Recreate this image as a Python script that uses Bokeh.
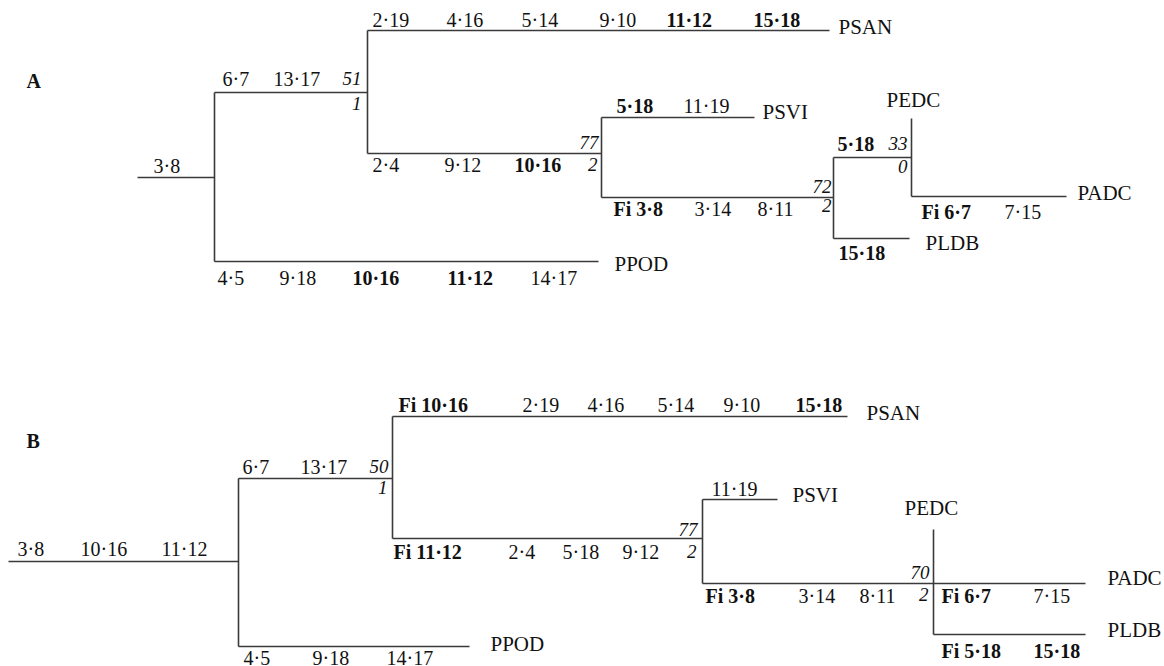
from bokeh.plotting import figure
from bokeh.models import ColumnDataSource, Range1d
from bokeh.core.properties import value
from bokeh.embed import file_html
from bokeh.resources import INLINE

FONT = "Liberation Serif"

# ---------------- Tree A ----------------
A_NODES = ["root", "n1", "n2", "n3", "n4", "n5", "PSAN", "PSVI", "PEDC", "PADC", "PLDB", "PPOD"]
A_PARENT = [None, "root", "n1", "n2", "n3", "n4", "n2", "n3", "n5", "n5", "n4", "n1"]
A_X = [137, 214, 367, 601, 833, 911, 829, 754, 911, 1066, 909, 598]
A_Y = [177, 177, 92, 153, 197, 157, 30, 117, 118, 196, 238, 261]

A_TAXA = ["PSAN", "PSVI", "PEDC", "PADC", "PLDB", "PPOD"]
A_TAXA_X = [838, 762, 886, 1077, 925, 614]
A_TAXA_Y = [34, 119, 107, 200, 250, 271]

# character-state changes
A_CHANGES = ["3·8",
             "6·7", "13·17",
             "2·19", "4·16", "5·14", "9·10", "11·12", "15·18",
             "2·4", "9·12", "10·16",
             "5·18", "11·19",
             "Fi 3·8", "3·14", "8·11",
             "5·18",
             "Fi 6·7", "7·15",
             "15·18",
             "4·5", "9·18", "10·16", "11·12", "14·17"]
A_BOLD = [0,
          0, 0,
          0, 0, 0, 0, 1, 1,
          0, 0, 1,
          1, 0,
          1, 0, 0,
          1,
          1, 0,
          1,
          0, 0, 1, 1, 0]
A_CH_X = [153,
          222, 273,
          372, 446, 521, 599, 666, 753,
          372, 444, 514,
          616, 683,
          613, 694, 757,
          837,
          921, 1004,
          838,
          217, 279, 352, 447, 530]
A_CH_Y = [173,
          86, 86,
          27, 27, 27, 27, 27, 27,
          172, 172, 172,
          113, 113,
          216, 216, 216,
          151,
          219, 219,
          260,
          285, 285, 285, 285, 285]

# support values (italic, right aligned)
A_SUPPORT = ["51", "1", "77", "2", "72", "2", "33", "0"]
A_SUP_X = [361, 361, 598, 597, 831, 831, 907, 907]
A_SUP_Y = [86, 111, 150, 172, 194, 213, 151, 174]

# ---------------- Tree B ----------------
B_NODES = ["root", "m1", "m2", "m3", "m4", "PSAN", "PSVI", "PEDC", "PADC", "PLDB", "PPOD"]
B_PARENT = [None, "root", "m1", "m2", "m3", "m2", "m3", "m4", "m4", "m4", "m1"]
B_X = [8, 238, 392, 702, 933, 847, 777, 933, 1085, 1085, 469]
B_Y = [561, 561, 478, 538, 583, 416, 499, 529, 583, 634, 646]

B_TAXA = ["PSAN", "PSVI", "PEDC", "PADC", "PLDB", "PPOD"]
B_TAXA_X = [866, 792, 904, 1107, 1107, 490]
B_TAXA_Y = [420, 502, 515, 585, 637, 651]

B_CHANGES = ["3·8", "10·16", "11·12",
             "6·7", "13·17",
             "Fi 10·16", "2·19", "4·16", "5·14", "9·10", "15·18",
             "Fi 11·12", "2·4", "5·18", "9·12",
             "11·19",
             "Fi 3·8", "3·14", "8·11",
             "Fi 6·7", "7·15",
             "Fi 5·18", "15·18",
             "4·5", "9·18", "14·17"]
B_BOLD = [0, 0, 0,
          0, 0,
          1, 0, 0, 0, 0, 1,
          1, 0, 0, 0,
          0,
          1, 0, 0,
          1, 0,
          1, 1,
          0, 0, 0]
B_CH_X = [17, 80, 161,
          242, 300,
          398, 522, 587, 657, 723, 795,
          393, 508, 562, 622,
          711,
          705, 798, 859,
          941, 1033,
          941, 1033,
          243, 312, 386]
B_CH_Y = [556, 556, 556,
          474, 474,
          412, 412, 412, 412, 412, 412,
          559, 559, 559, 559,
          496,
          603, 603, 603,
          603, 603,
          658, 658,
          665, 665, 665]

B_SUPPORT = ["50", "1", "77", "2", "70", "2"]
B_SUP_X = [388, 387, 697, 696, 929, 928]
B_SUP_Y = [474, 495, 537, 559, 580, 602]

PANEL_LABELS = ["A", "B"]
PANEL_X = [26, 26]
PANEL_Y = [88, 448]

LINE_COLOR = "#3a3a3a"
TEXT_COLOR = "#111111"
TEXT_DY = -8  # pixel correction for the SVG text baseline

p = figure(width=1164, height=666, output_backend="svg", toolbar_location=None,
           x_axis_type=None, y_axis_type=None,
           x_range=Range1d(0, 1164), y_range=Range1d(666, 0),
           min_border=0, background_fill_color="white", border_fill_color="white")
p.outline_line_color = None
p.grid.visible = False


def draw_tree(nodes, parents, xs, ys):
    pos = {n: (x, y) for n, x, y in zip(nodes, xs, ys)}
    x0, y0, x1, y1 = [], [], [], []
    for n, par in zip(nodes, parents):
        if par is None:
            continue
        px, _ = pos[par]
        cx, cy = pos[n]
        if cx != px:
            x0.append(px); y0.append(cy); x1.append(cx); y1.append(cy)
    for n in nodes:
        kids = [c for c, par in zip(nodes, parents) if par == n]
        if not kids:
            continue
        nx, ny = pos[n]
        kys = [pos[k][1] for k in kids] + [ny]
        if max(kys) > min(kys):
            x0.append(nx); y0.append(min(kys)); x1.append(nx); y1.append(max(kys))
    p.segment(x0=x0, y0=y0, x1=x1, y1=y1, line_color=LINE_COLOR, line_width=1.6)


def draw_text(texts, xs, ys, size, style, align="left"):
    if not texts:
        return
    src = ColumnDataSource(dict(x=xs, y=ys, t=texts))
    p.text(x="x", y="y", text="t", source=src, text_font=value(FONT),
           text_font_size=size, text_font_style=style, text_align=align,
           text_baseline="alphabetic", text_color=TEXT_COLOR, y_offset=TEXT_DY)


def draw_changes(texts, bold, xs, ys):
    nb = [i for i, b in enumerate(bold) if not b]
    bb = [i for i, b in enumerate(bold) if b]
    draw_text([texts[i] for i in nb], [xs[i] for i in nb], [ys[i] for i in nb], "20px", "normal")
    draw_text([texts[i] for i in bb], [xs[i] for i in bb], [ys[i] for i in bb], "20px", "bold")


draw_tree(A_NODES, A_PARENT, A_X, A_Y)
draw_tree(B_NODES, B_PARENT, B_X, B_Y)

draw_text(A_TAXA, A_TAXA_X, A_TAXA_Y, "21px", "normal")
draw_text(B_TAXA, B_TAXA_X, B_TAXA_Y, "21px", "normal")

draw_changes(A_CHANGES, A_BOLD, A_CH_X, A_CH_Y)
draw_changes(B_CHANGES, B_BOLD, B_CH_X, B_CH_Y)

draw_text(A_SUPPORT, A_SUP_X, A_SUP_Y, "19px", "italic", "right")
draw_text(B_SUPPORT, B_SUP_X, B_SUP_Y, "19px", "italic", "right")

draw_text(PANEL_LABELS, PANEL_X, PANEL_Y, "20px", "bold")

open("out.html", "w").write(file_html(p, INLINE))
